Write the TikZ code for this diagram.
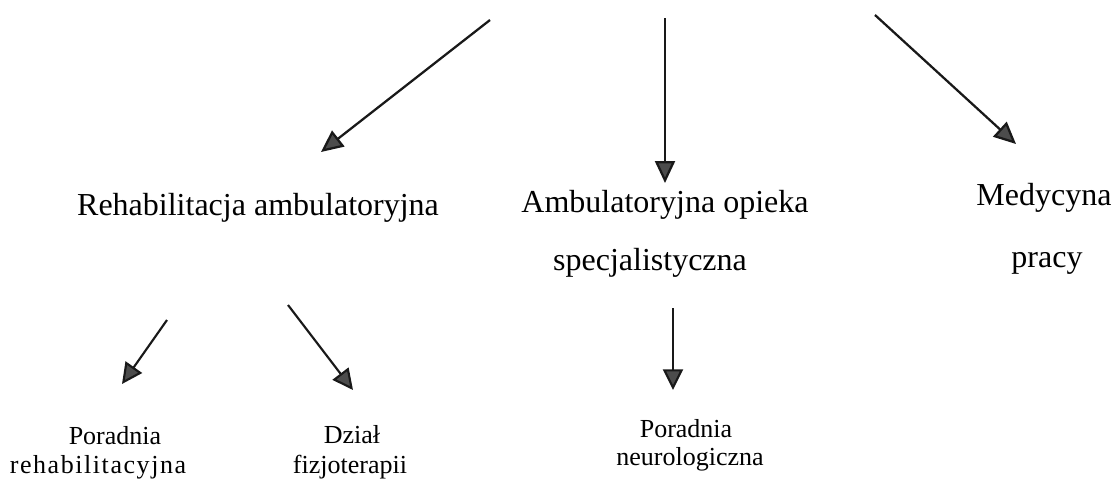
\documentclass[tikz,border=0pt]{standalone}
\usepackage{fontspec}
\setmainfont{Liberation Serif}
\usetikzlibrary{arrows.meta}
\tikzset{
  arr/.style={line width=1.7pt, draw=black!90, -{Triangle[length=16.5pt,width=15pt,fill=black!70]}},
  sarr/.style={line width=1.6pt, draw=black!90, -{Triangle[length=15.5pt,width=15pt,fill=black!70]}},
  big/.style={font=\fontsize{24pt}{29pt}\selectfont, inner sep=0pt, anchor=base},
  small/.style={font=\fontsize{19.5pt}{23pt}\selectfont, inner sep=0pt, anchor=base},
}
\begin{document}
\begin{tikzpicture}[x=0.75pt,y=-0.75pt]
\useasboundingbox (0,0) rectangle (1116,480);
% top-level arrows
\coordinate (s1) at (490,20);
\coordinate (e1) at (321,152);
\coordinate (s2) at (665,18);
\coordinate (e2) at (665,183);
\coordinate (s3) at (875,15);
\coordinate (e3) at (1016,144);
\draw[arr] (s1) -- (e1);
\draw[arr] (s2) -- (e2);
\draw[arr] (s3) -- (e3);
% second level texts
\node[big] (rehab) at (258,215) {Rehabilitacja ambulatoryjna};
\node[big] (amb1) at (665,212) {Ambulatoryjna opieka};
\node[big] (amb2) at (650,270) {specjalistyczna};
\node[big] (med1) at (1044,205) {Medycyna};
\node[big] (med2) at (1047,267) {pracy};
% lower arrows
\coordinate (s4) at (167,320);
\coordinate (e4) at (122,384);
\coordinate (s5) at (288,305);
\coordinate (e5) at (353,390);
\coordinate (s6) at (673,308);
\coordinate (e6) at (673,390);
\draw[sarr] (s4) -- (e4);
\draw[sarr] (s5) -- (e5);
\draw[sarr] (s6) -- (e6);
% third level texts
\node[small] (por1) at (115,444) {Poradnia};
\node[small] (reh) at (98,473) {\addfontfeature{LetterSpace=6}rehabilitacyjna};
\node[small] (dz1) at (352,443) {Dział};
\node[small] (dz2) at (350,473) {fizjoterapii};
\node[small] (por2) at (686,437) {Poradnia};
\node[small] (neu) at (690,465) {neurologiczna};
\end{tikzpicture}
\end{document}
